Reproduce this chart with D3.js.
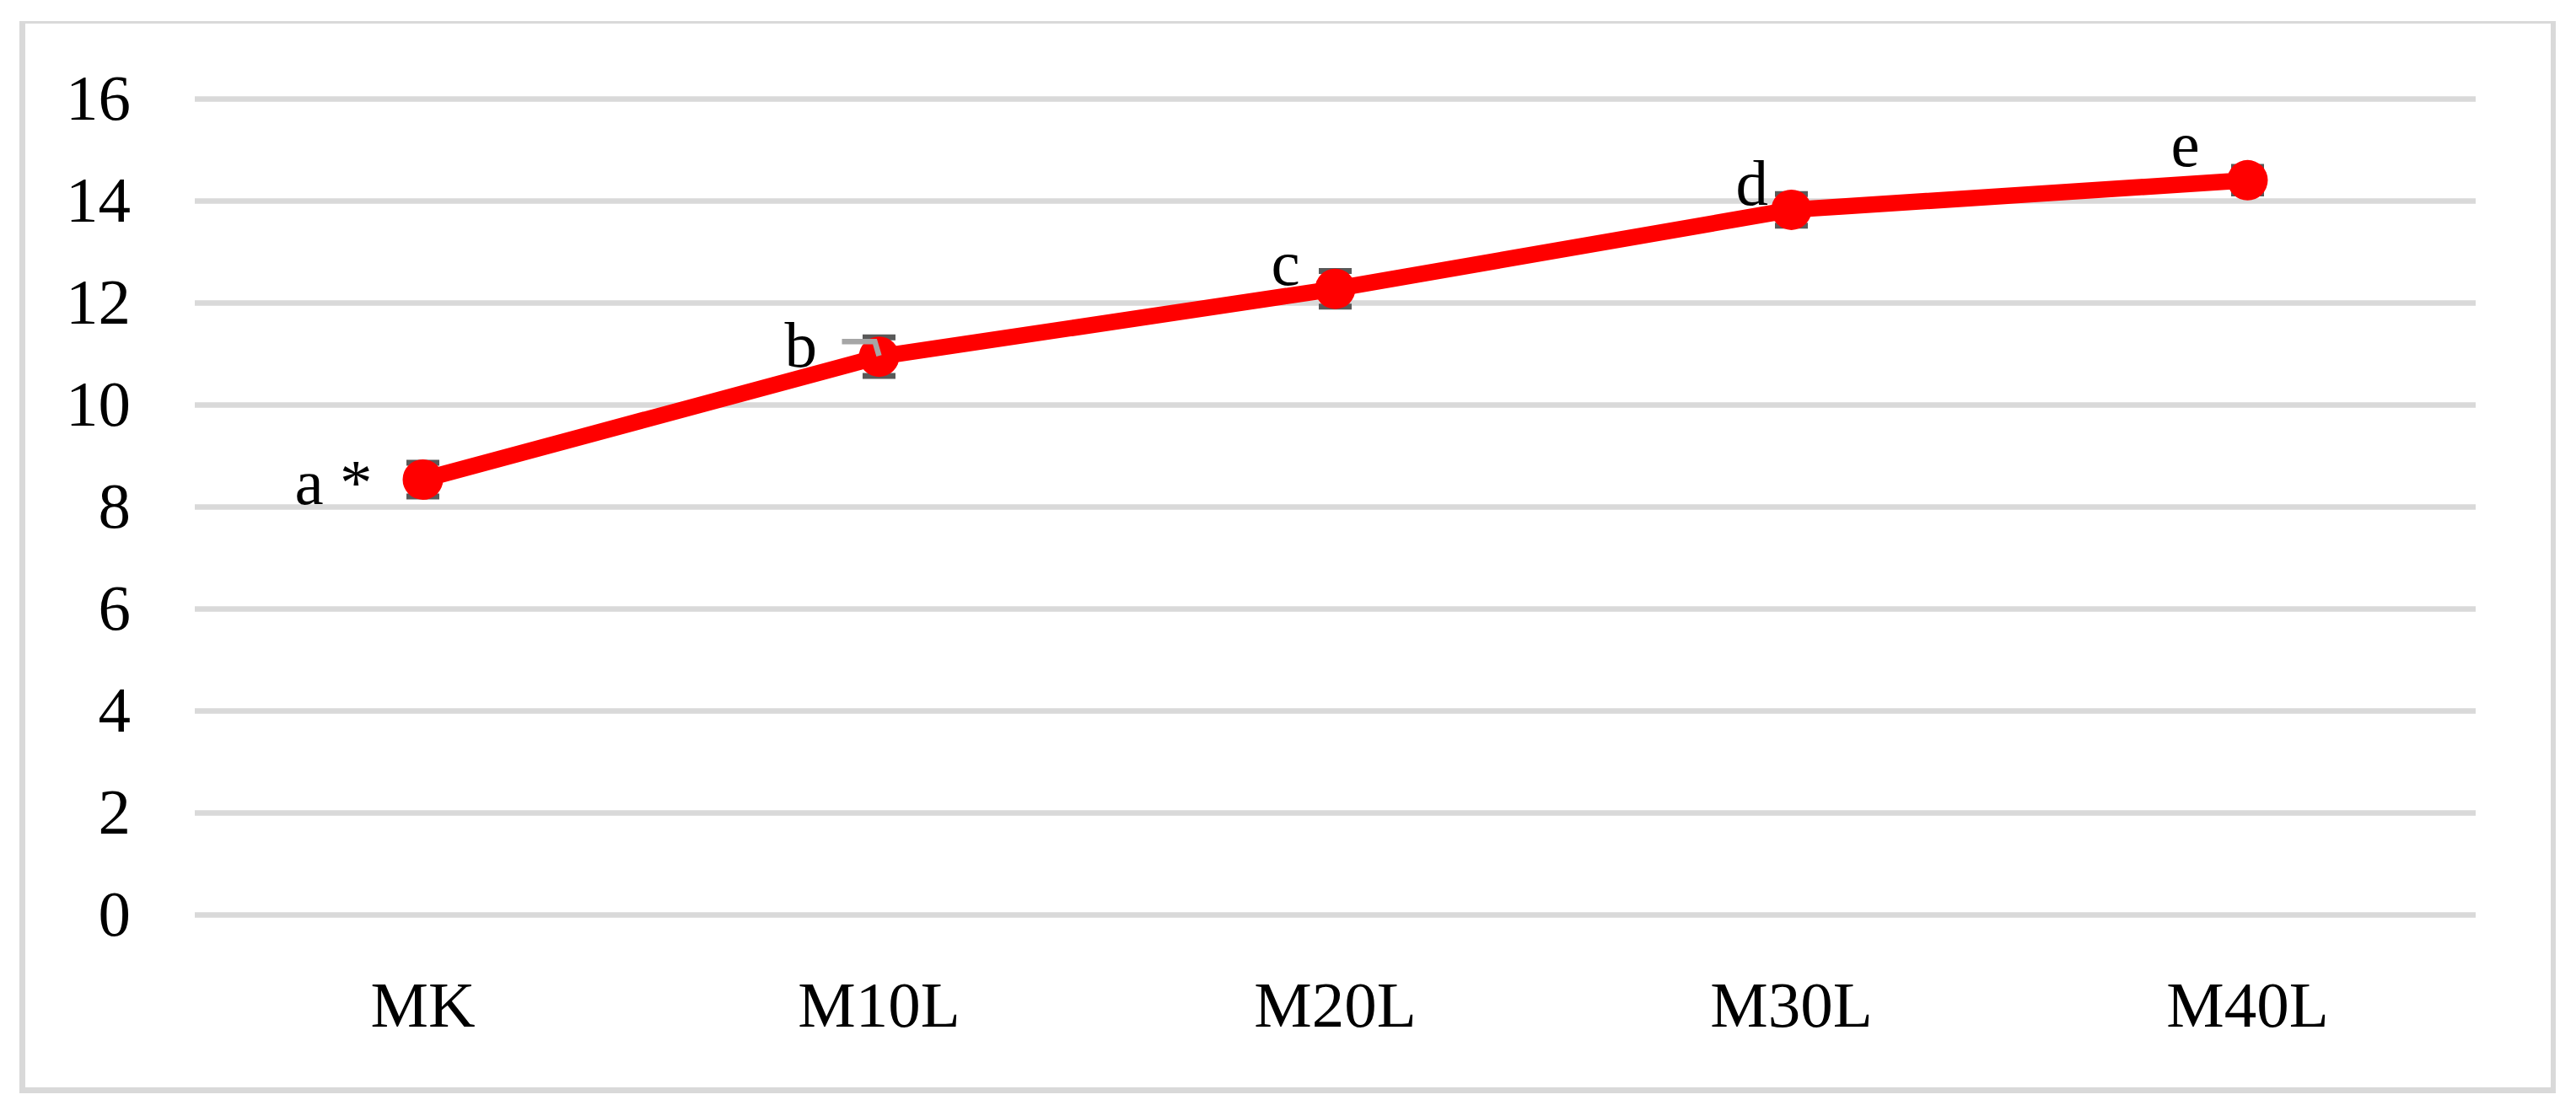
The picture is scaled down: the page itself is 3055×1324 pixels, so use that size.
<!DOCTYPE html>
<html>
<head>
<meta charset="utf-8">
<script src="https://cdn.jsdelivr.net/npm/d3@7"></script>
<style>
  html, body { margin: 0; padding: 0; background: #ffffff; }
  svg { display: block; }
  text { font-family: "Liberation Serif", "Times New Roman", serif; fill: #000000; }
</style>
</head>
<body>
<script>
// ---- data ----
const categories = ["MK", "M10L", "M20L", "M30L", "M40L"];
const values = [8.53, 10.94, 12.27, 13.82, 14.40];
const errors = [0.33, 0.38, 0.35, 0.31, 0.26];
const letters = ["a *", "b", "c", "d", "e"];
const yTicks = [0, 2, 4, 6, 8, 10, 12, 14, 16];

// ---- layout ----
const W = 3055, H = 1324;
const plot = { left: 231, right: 2936, top: 117, bottom: 1085 };

const svg = d3.select("body").append("svg")
  .attr("width", W).attr("height", H);

svg.append("rect").attr("width", W).attr("height", H).attr("fill", "#ffffff");

// frame (chart area border)
const frame = svg.append("g").attr("stroke", "#d9d9d9").attr("fill", "none");
frame.append("line").attr("x1", 23).attr("x2", 3031).attr("y1", 26.5).attr("y2", 26.5).attr("stroke-width", 3);
frame.append("line").attr("x1", 26.5).attr("x2", 26.5).attr("y1", 25).attr("y2", 1297).attr("stroke-width", 7);
frame.append("line").attr("x1", 3028).attr("x2", 3028).attr("y1", 25).attr("y2", 1297).attr("stroke-width", 6);
frame.append("line").attr("x1", 23).attr("x2", 3031).attr("y1", 1293.5).attr("y2", 1293.5).attr("stroke-width", 7);

const x = d3.scaleBand().domain(categories).range([plot.left, plot.right]).padding(0);
const y = d3.scaleLinear().domain([0, 16]).range([plot.bottom, plot.top]);
const cx = d => x(d) + x.bandwidth() / 2;

// gridlines + y labels
const yAxis = d3.axisLeft(y).tickValues(yTicks).tickSize(-(plot.right - plot.left)).tickPadding(76).tickFormat(d3.format("d"));
const gy = svg.append("g").attr("transform", `translate(${plot.left},0)`).call(yAxis);
gy.select(".domain").remove();
gy.selectAll(".tick line").attr("stroke", "#d9d9d9").attr("stroke-width", 6.5);
gy.selectAll(".tick text")
  .attr("font-size", 77).attr("fill", "#000").attr("dy", "0.32em")
  .style("font-family", '"Liberation Serif", "Times New Roman", serif');

// x axis labels
const xAxis = d3.axisBottom(x).tickSize(0).tickPadding(0);
const gx = svg.append("g").attr("transform", `translate(0,${plot.bottom})`).call(xAxis);
gx.select(".domain").remove();
gx.selectAll(".tick text")
  .attr("font-size", 77).attr("fill", "#000").attr("dy", 0).attr("y", 133)
  .style("font-family", '"Liberation Serif", "Times New Roman", serif');

const pts = categories.map((c, i) => ({ c, v: values[i], e: errors[i], l: letters[i] }));

// line
const line = d3.line().x(d => cx(d.c)).y(d => y(d.v));
svg.append("path").datum(pts)
  .attr("d", line).attr("fill", "none")
  .attr("stroke", "#ff0000").attr("stroke-width", 19.5).attr("stroke-linejoin", "round");

// error bars
const eb = svg.append("g").attr("stroke", "#595959").attr("stroke-width", 7);
pts.forEach(d => {
  const px = cx(d.c);
  eb.append("line").attr("x1", px).attr("x2", px).attr("y1", y(d.v + d.e)).attr("y2", y(d.v - d.e)).attr("stroke-width", 5);
  eb.append("line").attr("x1", px - 19.5).attr("x2", px + 19.5).attr("y1", y(d.v + d.e)).attr("y2", y(d.v + d.e));
  eb.append("line").attr("x1", px - 19.5).attr("x2", px + 19.5).attr("y1", y(d.v - d.e)).attr("y2", y(d.v - d.e));
});

// markers
svg.append("g").selectAll("circle").data(pts).join("circle")
  .attr("cx", d => cx(d.c)).attr("cy", d => y(d.v)).attr("r", 24)
  .attr("fill", "#ff0000");

// leader line for label b
const bx = cx("M10L"), by = y(values[1]);
svg.append("path")
  .attr("d", `M${bx - 44},${by - 18} L${bx - 5},${by - 18} L${bx},${by - 1}`)
  .attr("fill", "none").attr("stroke", "#a6a6a6").attr("stroke-width", 6.5);

// significance letters (offsets relative to each point)
const labelOffsets = [[-152, 29], [-112, 12], [-76, -5], [-66, -6], [-91, -17]];
svg.append("g").selectAll("text").data(pts).join("text")
  .attr("x", (d, i) => cx(d.c) + labelOffsets[i][0])
  .attr("y", (d, i) => y(d.v) + labelOffsets[i][1])
  .attr("font-size", 77)
  .text(d => d.l);
</script>
</body>
</html>
